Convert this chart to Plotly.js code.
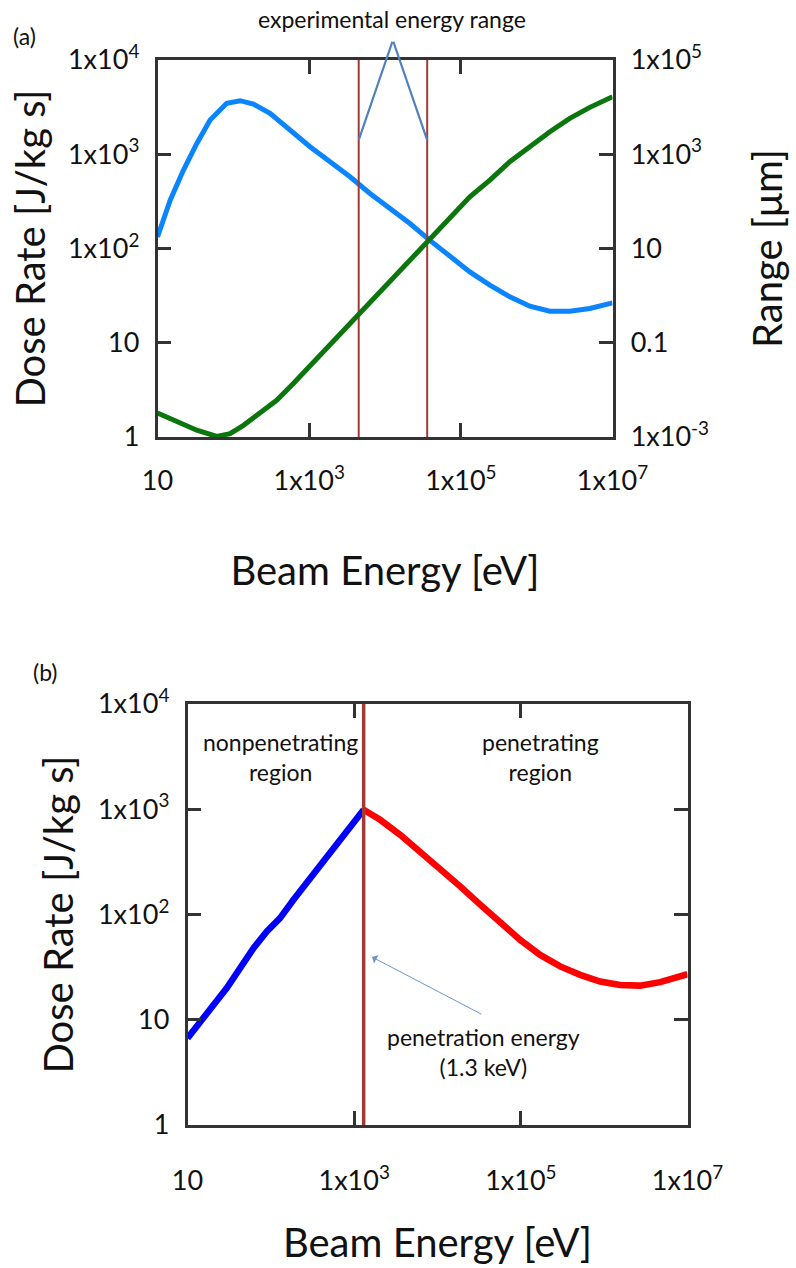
<!DOCTYPE html>
<html>
<head>
<meta charset="utf-8">
<script src="https://cdn.plot.ly/plotly-3.0.1.min.js"></script>
<style>html,body{margin:0;padding:0;background:#fff;}#chart{width:796px;height:1268px;}</style>
</head>
<body>
<div id="chart"></div>
<script>
// ---------- Panel (a) data ----------
const energyDoseA = [10, 14.7, 22, 33, 49.4, 81.8, 123, 184, 305, 560, 1026, 1884, 3451, 6339, 11610, 21330, 39080, 71780, 131500, 241500, 442600, 812800, 1493000, 2735000, 5023000, 10000000];
const doseRateA = [133, 326, 679, 1303, 2306, 3467, 3700, 3410, 2716, 1806, 1202, 832, 577, 383, 266, 184, 122, 81.6, 56.5, 40.8, 30.7, 24.4, 21.6, 21.6, 23.1, 26.5];
const energyRangeA = [10, 18, 33, 60.5, 90.6, 136, 225, 373, 619, 1026, 1884, 3451, 6339, 11610, 21330, 39080, 71780, 131500, 241500, 442600, 812800, 1493000, 2735000, 5023000, 10000000];
const rangeUmA = [0.00324, 0.00208, 0.00139, 0.00103, 0.00118, 0.00177, 0.00324, 0.00601, 0.0136, 0.0322, 0.0899, 0.255, 0.713, 1.99, 5.65, 15.8, 47.1, 125, 282, 693, 1442, 3006, 5768, 9886, 16630];
const experimentalRange = [4500, 36000];

// ---------- Panel (b) data ----------
const energyNonPen = [10, 14.2, 20.5, 29.6, 42.9, 61.9, 89.5, 129, 187, 270, 391, 565, 817, 1300];
const doseNonPen = [6.67, 9.27, 13.8, 20.0, 32.1, 47.9, 68.9, 92.3, 138, 199, 297, 428, 615, 988];
const energyPen = [1300, 2051, 3565, 6194, 10760, 18710, 32510, 56490, 98160, 170600, 296500, 515200, 895400, 1556000, 2704000, 4699000, 6792000, 10000000];
const dosePen = [988, 794, 571, 397, 276, 185, 124, 82.8, 57.4, 41.3, 32.1, 26.7, 23.1, 21.4, 21.1, 22.8, 24.8, 27.1];
const penetrationEnergy = 1300;

// ---------- Tick labels ----------
const xTickVals = [10, 1e3, 1e5, 1e7];
const xTickText = ['10', '1x10<sup>3</sup>', '1x10<sup>5</sup>', '1x10<sup>7</sup>'];
const doseTickVals = [1, 10, 100, 1000, 10000];
const doseTickText = ['1', '10', '1x10<sup>2</sup>', '1x10<sup>3</sup>', '1x10<sup>4</sup>'];
const rangeTickVals = [1e-3, 0.1, 10, 1e3, 1e5];
const rangeTickText = ['1x10<sup>-3</sup>', '0.1', '10', '1x10<sup>3</sup>', '1x10<sup>5</sup>'];

const FONT = 'Lato, "Open Sans", sans-serif';
const frame = '#333333';
const tickFont = {family: FONT, size: 27, color: '#111'};
const titleFont = {family: FONT, size: 40, color: '#111'};
const noteFont = {family: FONT, size: 23, color: '#111'};
const W = 796, H = 1268;
const px = v => v / W, py = v => 1 - v / H;

const traces = [
  {x: energyDoseA, y: doseRateA, xaxis: 'x', yaxis: 'y', mode: 'lines', line: {color: '#0a84ff', width: 5}},
  {x: energyRangeA, y: rangeUmA, xaxis: 'x', yaxis: 'y3', mode: 'lines', line: {color: '#0b760b', width: 5}},
  {x: [experimentalRange[0], experimentalRange[0]], y: [1, 10000], xaxis: 'x', yaxis: 'y', mode: 'lines', line: {color: '#a03a35', width: 2}},
  {x: [experimentalRange[1], experimentalRange[1]], y: [1, 10000], xaxis: 'x', yaxis: 'y', mode: 'lines', line: {color: '#a03a35', width: 2}},
  {x: energyNonPen, y: doseNonPen, xaxis: 'x2', yaxis: 'y2', mode: 'lines', line: {color: '#0000ff', width: 6.5}},
  {x: energyPen, y: dosePen, xaxis: 'x2', yaxis: 'y2', mode: 'lines', line: {color: '#ff0000', width: 6.5}},
  {x: [penetrationEnergy, penetrationEnergy], y: [1, 10000], xaxis: 'x2', yaxis: 'y2', mode: 'lines', line: {color: '#a03a35', width: 3.5}}
];

const xCommon = {
  type: 'log', range: [1, 7], tickvals: xTickVals, ticktext: xTickText,
  ticks: 'inside', ticklen: 14, tickwidth: 2.5, tickcolor: frame,
  showline: true, linecolor: frame, linewidth: 2.5, mirror: 'ticks',
  showgrid: false, zeroline: false, tickfont: tickFont,
  automargin: false
};
const yCommon = {
  type: 'log', range: [0, 4], tickvals: doseTickVals, ticktext: doseTickText,
  ticks: 'inside', ticklen: 14, tickwidth: 2.5, tickcolor: frame,
  showline: true, linecolor: frame, linewidth: 2.5,
  showgrid: false, zeroline: false, tickfont: tickFont, ticklabelstandoff: 10,
  automargin: false
};

const apexE = Math.log10(12700), apexD = Math.log10(16200), footD = Math.log10(1413);
const note = (text, x, y) => ({text: text, xref: 'paper', yref: 'paper', x: px(x), y: py(y),
  xanchor: 'center', yanchor: 'middle', showarrow: false, font: noteFont});

const layout = {
  width: W, height: H, autosize: false,
  margin: {l: 0, r: 0, t: 0, b: 0},
  paper_bgcolor: '#fff', plot_bgcolor: '#fff',
  showlegend: false,
  font: {family: FONT, color: '#111'},
  xaxis: Object.assign({}, xCommon, {domain: [px(157.5), px(612.5)], anchor: 'y', ticklabelstandoff: 18,
    title: {text: 'Beam Energy [eV]', font: titleFont, standoff: 62}}),
  yaxis: Object.assign({}, yCommon, {domain: [py(437), py(60)], anchor: 'x', mirror: true,
    title: {text: 'Dose Rate [J/kg s]', font: titleFont, standoff: 10}}),
  yaxis3: Object.assign({}, yCommon, {range: [-3, 5], tickvals: rangeTickVals, ticktext: rangeTickText,
    overlaying: 'y', side: 'right', anchor: 'x',
    title: {text: 'Range [μm]', font: titleFont, standoff: 46}}),
  xaxis2: Object.assign({}, xCommon, {domain: [px(187.5), px(687.5)], anchor: 'y2', ticklabelstandoff: 30,
    title: {text: 'Beam Energy [eV]', font: titleFont, standoff: 34}}),
  yaxis2: Object.assign({}, yCommon, {domain: [py(1125), py(704)], anchor: 'x2', mirror: 'ticks',
    title: {text: 'Dose Rate [J/kg s]', font: titleFont, standoff: 12}}),
  annotations: [
    note('(a)', 25, 36),
    note('(b)', 45, 672),
    note('experimental energy range', 392, 19),
    {text: '', xref: 'x', yref: 'y', axref: 'x', ayref: 'y', x: Math.log10(experimentalRange[0]), y: footD, ax: apexE, ay: apexD, showarrow: true, arrowhead: 0, arrowwidth: 2.2, arrowcolor: '#4f81bd', standoff: 0, startstandoff: 0},
    {text: '', xref: 'x', yref: 'y', axref: 'x', ayref: 'y', x: Math.log10(experimentalRange[1]), y: footD, ax: apexE, ay: apexD, showarrow: true, arrowhead: 0, arrowwidth: 2.2, arrowcolor: '#4f81bd', standoff: 0, startstandoff: 0},
    note('nonpenetrating<br>region', 280, 757),
    note('penetrating<br>region', 540, 757),
    note('penetration energy<br>(1.3 keV)', 483, 1052),
    {text: '', xref: 'paper', yref: 'paper', x: px(372), y: py(957), ax: 111, ay: 58, showarrow: true, arrowhead: 1, arrowsize: 1.6, arrowwidth: 1, arrowcolor: '#6d95c9'}
  ]
};

Plotly.newPlot('chart', traces, layout, {displayModeBar: false});
</script>
</body>
</html>
